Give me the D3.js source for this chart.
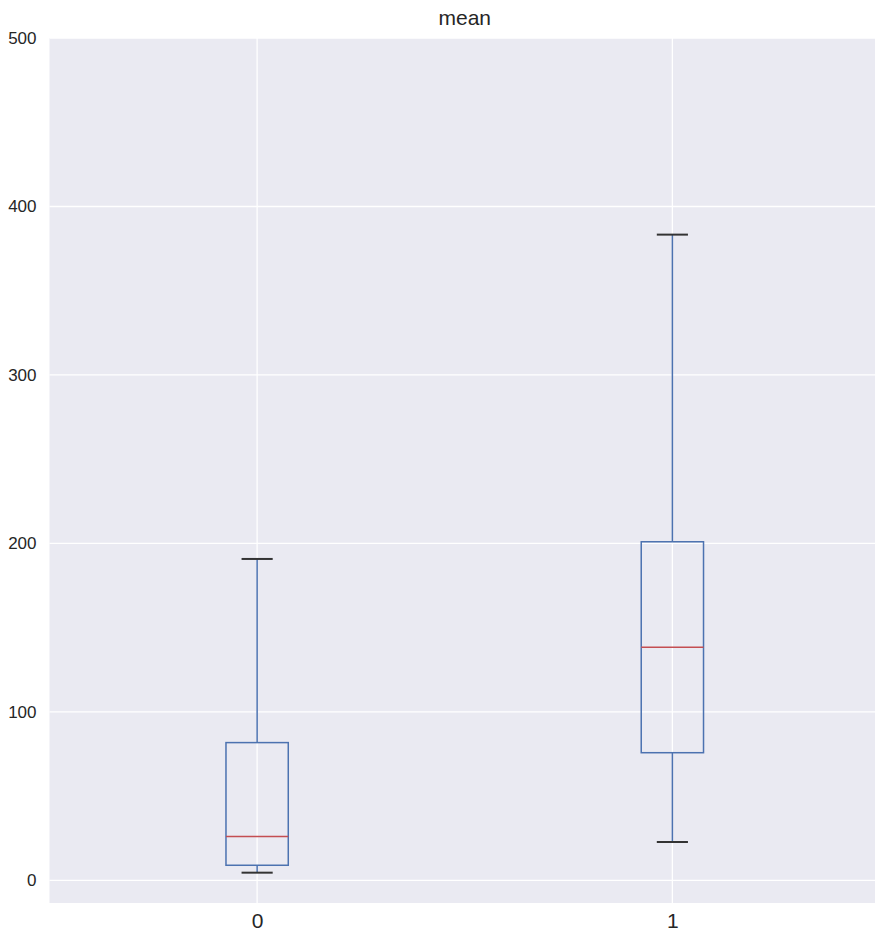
<!DOCTYPE html>
<html>
<head>
<meta charset="utf-8">
<script src="https://cdn.jsdelivr.net/npm/d3@7"></script>
<style>
  body { margin: 0; background: #fff; }
  text { font-family: "Liberation Sans", Arial, sans-serif; fill: #262626; }
</style>
</head>
<body>
<div id="chart"></div>
<script>
const categories = ["0", "1"];
const whiskerLow = [4.6, 22.8];
const q1 = [9.0, 75.8];
const median = [26.0, 138.4];
const q3 = [81.8, 201.0];
const whiskerHigh = [190.8, 383.3];
const yTicks = [0, 100, 200, 300, 400, 500];

const data = categories.map((c, i) => ({
  cat: c, lo: whiskerLow[i], q1: q1[i], med: median[i], q3: q3[i], hi: whiskerHigh[i]
}));

let width = 875,
  height = 933,
  margin = ({ top: 38, right: -5, bottom: 30, left: 49.5 });

const svg = d3.select("#chart")
  .append("svg")
  .attr("width", width)
  .attr("height", height);

// positions 1, 2 with xlim [0.5, 2.5] like matplotlib
let x = d3.scaleLinear()
  .domain([0.5, 2.5])
  .range([margin.left, width - margin.right]);

let y = d3.scaleLinear()
  .domain([-13.4, 500])
  .range([height - margin.bottom, margin.top]);

const boxW = 0.15;

svg.append("rect")
  .attr("x", margin.left)
  .attr("y", margin.top)
  .attr("width", width - margin.right - margin.left)
  .attr("height", height - margin.bottom - margin.top)
  .attr("fill", "#EAEAF2");

// grid
svg.append("g")
  .selectAll("line")
  .data(yTicks)
  .join("line")
  .attr("x1", margin.left)
  .attr("x2", width - margin.right)
  .attr("y1", d => y(d))
  .attr("y2", d => y(d))
  .attr("stroke", "#fff")
  .attr("stroke-width", 1.3);

svg.append("g")
  .selectAll("line")
  .data(data)
  .join("line")
  .attr("x1", (d, i) => x(i + 1))
  .attr("x2", (d, i) => x(i + 1))
  .attr("y1", margin.top)
  .attr("y2", height - margin.bottom)
  .attr("stroke", "#fff")
  .attr("stroke-width", 1.3);

// axes
let yAxis = g => g
  .attr("transform", `translate(${margin.left},0)`)
  .call(d3.axisLeft(y).tickValues(yTicks).tickSize(0).tickPadding(13))
  .call(g => g.select(".domain").remove())
  .call(g => g.selectAll("text").attr("font-size", 17)
    .attr("font-family", "Liberation Sans, Arial, sans-serif").attr("fill", "#262626"));

let xAxis = g => g
  .attr("transform", `translate(0,${height - margin.bottom})`)
  .call(d3.axisBottom(x).tickValues([1, 2]).tickFormat((d, i) => categories[i]).tickSize(0).tickPadding(10))
  .call(g => g.select(".domain").remove())
  .call(g => g.selectAll("text").attr("font-size", 21)
    .attr("font-family", "Liberation Sans, Arial, sans-serif").attr("fill", "#262626"));

svg.append("g").call(yAxis);
svg.append("g").call(xAxis);

// boxes
const box = svg.selectAll(".box")
  .data(data)
  .join("g")
  .attr("class", "box");

const blue = "#4C72B0";

box.append("line")
  .attr("x1", (d, i) => x(i + 1))
  .attr("x2", (d, i) => x(i + 1))
  .attr("y1", d => y(d.q3))
  .attr("y2", d => y(d.hi))
  .attr("stroke", blue)
  .attr("stroke-width", 1.5);

box.append("line")
  .attr("x1", (d, i) => x(i + 1))
  .attr("x2", (d, i) => x(i + 1))
  .attr("y1", d => y(d.q1))
  .attr("y2", d => y(d.lo))
  .attr("stroke", blue)
  .attr("stroke-width", 1.5);

box.append("rect")
  .attr("x", (d, i) => x(i + 1 - boxW / 2))
  .attr("width", x(1 + boxW) - x(1))
  .attr("y", d => y(d.q3))
  .attr("height", d => y(d.q1) - y(d.q3))
  .attr("fill", "none")
  .attr("stroke", blue)
  .attr("stroke-width", 1.5);

box.append("line")
  .attr("x1", (d, i) => x(i + 1 - boxW / 2))
  .attr("x2", (d, i) => x(i + 1 + boxW / 2))
  .attr("y1", d => y(d.med))
  .attr("y2", d => y(d.med))
  .attr("stroke", "#C44E52")
  .attr("stroke-width", 1.5);

["lo", "hi"].forEach(k => {
  box.append("line")
    .attr("x1", (d, i) => x(i + 1 - boxW / 4))
    .attr("x2", (d, i) => x(i + 1 + boxW / 4))
    .attr("y1", d => y(d[k]))
    .attr("y2", d => y(d[k]))
    .attr("stroke", "#333")
    .attr("stroke-width", 2);
});

svg.append("text")
  .attr("x", (x(0.5) + x(2.5)) / 2)
  .attr("y", 25)
  .attr("text-anchor", "middle")
  .attr("font-size", 21)
  .text("mean");
</script>
</body>
</html>
